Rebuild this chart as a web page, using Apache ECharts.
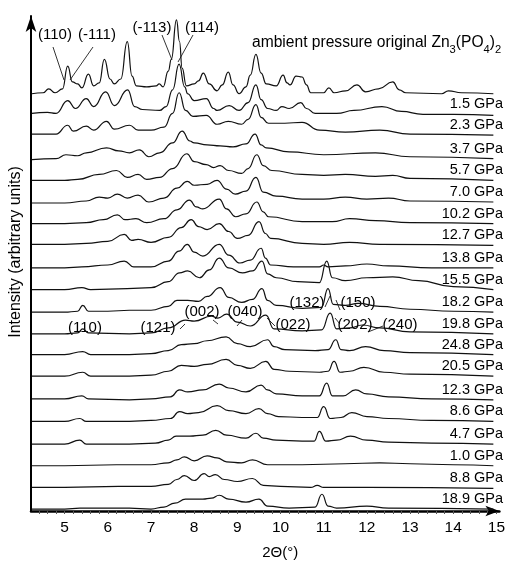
<!DOCTYPE html>
<html>
<head>
<meta charset="utf-8">
<script src="https://cdn.jsdelivr.net/npm/echarts@6/dist/echarts.min.js"></script>
<style>
html, body { margin: 0; padding: 0; background: #fff; }
#xrdChart { width: 508px; height: 565px; }
</style>
</head>
<body>
<div id="xrdChart"></div>
<script>
// ---------------- data ----------------
var xLabels = [5, 6, 7, 8, 9, 10, 11, 12, 13, 14, 15];
var pressures = ['ambient', '1.5 GPa', '2.3 GPa', '3.7 GPa', '5.7 GPa', '7.0 GPa', '10.2 GPa', '12.7 GPa', '13.8 GPa', '15.5 GPa',
    '18.2 GPa', '19.8 GPa', '24.8 GPa', '20.5 GPa', '12.3 GPa', '8.6 GPa', '4.7 GPa', '1.0 GPa', '8.8 GPa', '18.9 GPa'];
// vertical stacking offset of each pattern
var offsets = [425, 403, 382, 358, 336, 314, 292, 270, 247, 225, 202, 180, 159, 137, 113, 91, 68, 46, 23, 2];

// [2theta, intensity]
var ambient = [[4.24,-1],[4.5,0],[4.63,4],[4.78,0],[4.95,4],[5.07,27],[5.18,11],[5.3,9],[5.4,5],[5.55,19],[5.67,7],[5.8,10],[5.92,34],[6.05,14],[6.15,9],[6.3,14],[6.45,52],[6.56,17],[6.66,7],[6.9,6],[7.12,7],[7.19,9],[7.28,6],[7.4,22],[7.47,34],[7.59,74],[7.66,52],[7.72,25],[7.82,7],[8.0,9],[8.1,12],[8.21,20],[8.35,9],[8.53,2],[8.65,8],[8.79,21],[8.9,8],[9.04,-1],[9.2,6],[9.3,18],[9.43,39],[9.55,20],[9.67,9],[9.9,7],[10.06,18],[10.15,10],[10.22,8],[10.36,17],[10.5,16],[10.6,8],[10.7,0],[11.0,0],[11.12,5],[11.24,0],[11.51,2],[11.77,8],[11.97,1],[12.27,4],[12.6,11],[12.75,3],[12.9,0],[13.73,-1],[13.89,2],[14.19,0],[14.93,-1]];
var p1_5 = [[4.24,1],[4.6,2],[4.8,1],[5.07,14],[5.25,6],[5.5,16],[5.67,8],[5.95,23],[6.15,9],[6.46,25],[6.62,8],[6.8,5],[7.2,4],[7.35,8],[7.5,25],[7.65,51],[7.78,28],[7.85,21],[8.0,14],[8.28,16],[8.45,6],[8.53,4],[8.81,9],[9.04,4],[9.25,12],[9.43,30],[9.55,15],[9.7,6],[9.9,4],[10.03,8],[10.2,6],[10.47,12],[10.6,6],[10.8,1],[11.3,1],[11.7,4],[12.35,8],[12.8,3],[13.3,0],[14.0,0],[14.93,-1]];
var p2_3 = [[4.24,1],[4.8,1],[5.07,10],[5.2,4],[5.5,9],[5.67,5],[5.97,14],[6.15,6],[6.5,10],[6.7,5],[7.0,5],[7.3,8],[7.5,22],[7.65,43],[7.8,25],[7.97,19],[8.28,20],[8.53,11],[8.79,14],[9.1,11],[9.25,16],[9.43,31],[9.55,18],[9.72,12],[10.1,12],[10.5,13],[10.9,5],[11.5,3],[12.3,5],[13.0,1],[14.93,0]];
var p3_7 = [[4.24,-1],[4.8,0],[5.03,4],[5.3,3],[5.5,6],[5.97,11],[6.25,8],[6.5,6],[6.73,9],[6.95,2],[7.2,6],[7.5,16],[7.72,28],[7.9,18],[8.0,16],[8.3,14],[8.6,13],[8.9,12],[9.2,15],[9.41,25],[9.55,14],[9.67,11],[10.2,7],[11.0,4],[12.2,6],[13.0,2],[14.93,0]];
var p5_7 = [[4.24,0],[5.0,0],[5.3,1],[5.8,6],[6.2,10],[6.45,3],[6.7,6],[6.9,1],[7.2,3],[7.5,12],[7.83,27],[8.0,19],[8.28,16],[8.45,13],[8.6,15],[8.8,10],[9.1,7],[9.25,12],[9.45,26],[9.6,15],[9.8,10],[10.5,6],[11.0,5],[11.5,6],[12.2,4],[12.6,5],[13.0,2],[14.93,0]];
var p7_0 = [[4.24,-1],[5.0,-1],[5.5,1],[5.8,5],[6.0,4],[6.22,8],[6.45,4],[6.7,7],[6.95,0],[7.3,4],[7.6,14],[7.84,21],[8.0,17],[8.3,18],[8.53,22],[8.75,13],[8.95,8],[9.2,11],[9.43,25],[9.6,10],[9.9,6],[10.5,3],[11.0,3],[11.5,5],[12.0,3],[12.5,4],[13.0,1],[14.93,0]];
var p10_2 = [[4.24,0],[5.0,0],[5.5,1],[5.9,4],[6.22,9],[6.4,4],[6.65,5],[6.9,1],[7.3,5],[7.6,14],[7.89,24],[8.05,17],[8.2,15],[8.58,25],[8.75,15],[8.96,7],[9.2,10],[9.45,22],[9.6,12],[9.72,7],[10.5,2],[11.2,2],[11.6,5],[12.2,3],[13.0,1],[14.93,0]];
var p12_7 = [[4.24,1],[5.0,1],[5.5,2],[6.0,4],[6.38,11],[6.55,5],[6.7,6],[7.0,3],[7.4,8],[7.7,18],[7.93,26],[8.1,19],[8.3,16],[8.58,22],[8.8,14],[9.0,7],[9.25,10],[9.5,24],[9.65,12],[9.77,7],[10.5,2],[11.0,1],[11.6,3],[12.3,1],[14.93,0]];
var p13_8 = [[4.24,0],[5.0,0],[5.4,1],[6.0,3],[6.38,7],[6.6,1],[7.0,1],[7.4,7],[7.65,17],[7.84,24],[8.0,16],[8.2,12],[8.58,24],[8.8,13],[9.06,5],[9.3,8],[9.55,20],[9.65,10],[9.77,3],[10.3,1],[10.9,1],[11.0,3],[11.1,1],[11.5,2],[12.0,4],[12.5,2],[13.5,0],[14.93,0]];
var p15_5 = [[4.24,0],[5.0,0],[5.4,2],[5.6,0],[6.45,1],[7.0,2],[7.4,8],[7.66,17],[7.85,19],[8.12,12],[8.35,20],[8.58,32],[8.8,22],[9.12,17],[9.35,19],[9.57,29],[9.7,16],[9.9,12],[10.4,8],[10.9,7],[11.07,29],[11.2,12],[11.5,9],[12.0,12],[12.6,13],[13.2,9],[14.0,3],[14.93,0]];
var p18_2 = [[4.24,0],[5.0,0],[5.3,1],[5.42,7],[5.55,1],[6.0,1],[6.5,2],[7.0,2],[7.4,6],[7.6,12],[7.85,12],[8.1,11],[8.3,16],[8.6,25],[8.8,15],[9.1,10],[9.35,13],[9.57,24],[9.7,12],[9.9,7],[10.5,4],[10.95,5],[11.1,24],[11.22,8],[11.5,7],[11.8,9],[12.3,6],[13.0,3],[14.0,1],[14.93,0]];
var p19_8 = [[4.24,0],[5.0,0],[5.3,1],[5.42,5],[5.55,1],[6.5,0],[7.0,1],[7.4,6],[7.8,14],[8.0,13],[8.4,18],[8.55,16],[8.75,20],[9.0,12],[9.3,8],[9.66,19],[9.85,5],[10.5,3],[10.95,4],[11.15,21],[11.3,5],[11.6,6],[11.9,9],[12.3,6],[13.0,2],[14.93,0]];
var p24_8 = [[4.24,0],[5.0,0],[5.42,3],[5.6,0],[6.5,0],[7.0,1],[7.4,4],[7.7,10],[8.0,11],[8.3,14],[8.74,18],[9.0,11],[9.3,8],[9.7,15],[9.85,8],[10.1,5],[10.8,4],[11.1,5],[11.28,15],[11.4,5],[11.6,4],[11.97,8],[12.4,4],[13.0,2],[14.93,0]];
var p20_5 = [[4.24,0],[5.0,0],[5.42,4],[5.6,0],[6.5,0],[7.0,1],[7.4,5],[7.7,11],[8.0,10],[8.3,12],[8.74,17],[9.0,11],[9.3,8],[9.66,15],[9.85,7],[10.2,5],[10.9,4],[11.1,5],[11.24,15],[11.38,4],[11.6,5],[11.93,9],[12.4,4],[13.0,2],[14.93,0]];
var p12_3 = [[4.24,1],[5.0,1],[5.4,4],[5.55,1],[6.5,0],[7.0,1],[7.45,3],[7.66,10],[7.85,8],[8.2,10],[8.58,16],[8.8,12],[9.2,8],[9.55,15],[9.7,10],[9.9,6],[10.5,4],[10.9,4],[11.07,17],[11.2,4],[11.45,4],[11.74,10],[12.0,6],[12.5,3],[13.5,1],[14.93,0]];
var p8_6 = [[4.24,0],[5.0,0],[5.35,3],[5.5,0],[6.5,0],[7.0,1],[7.45,3],[7.66,10],[7.85,8],[8.1,9],[8.53,16],[8.8,11],[9.2,8],[9.5,13],[9.7,8],[9.95,5],[10.5,4],[10.85,4],[11.0,15],[11.15,3],[11.4,4],[11.65,9],[12.0,5],[12.5,3],[13.5,1],[14.93,0]];
var p4_7 = [[4.24,0],[5.0,0],[5.35,4],[5.5,0],[6.5,0],[7.1,1],[7.4,4],[7.58,8],[7.9,8],[8.2,9],[8.5,14],[8.75,9],[9.2,6],[9.43,11],[9.6,6],[9.9,4],[10.5,3],[10.78,3],[10.9,13],[11.05,3],[11.3,4],[11.62,8],[12.0,4],[12.5,2],[13.5,1],[14.93,0]];
var p1_0 = [[4.24,0],[5.0,0],[6.2,1],[7.0,1],[7.4,3],[7.6,6],[7.77,9],[8.0,5],[8.3,10],[8.53,8],[8.75,4],[9.1,3],[9.35,6],[9.7,1],[10.5,1],[11.5,2],[12.3,3],[13.0,2],[14.0,1],[14.93,0]];
var p8_8 = [[4.24,1],[5.0,1],[6.25,2],[7.0,2],[7.4,4],[7.6,9],[7.77,13],[8.0,8],[8.23,15],[8.35,12],[8.49,14],[8.7,9],[9.0,7],[9.35,10],[9.6,3],[10.0,2],[10.7,1],[10.85,3],[11.0,1],[12.0,1],[14.93,0]];
var p18_9 = [[4.24,0],[5.0,0],[5.35,1],[6.5,1],[7.0,0],[7.3,2],[7.55,6],[7.8,10],[8.2,10],[8.4,11],[8.58,14],[8.8,10],[9.2,7],[9.5,10],[9.7,3],[10.2,1],[10.8,2],[10.96,15],[11.1,3],[11.3,1],[12.0,3],[12.5,1],[14.93,0]];

var traces = [ambient, p1_5, p2_3, p3_7, p5_7, p7_0, p10_2, p12_7, p13_8, p15_5,
    p18_2, p19_8, p24_8, p20_5, p12_3, p8_6, p4_7, p1_0, p8_8, p18_9];

// ---------------- chart ----------------
var dom = document.getElementById('xrdChart');
var xrdChart = echarts.init(dom);
var fontName = 'Liberation Sans, Arial, sans-serif';

var minorTicks = [];
for (var t = 44; t <= 150; t += 2) { minorTicks.push(t / 10); }

var series = traces.map(function (tr, i) {
    return {
        name: pressures[i],
        type: 'line',
        smooth: 0.5,
        smoothMonotone: 'x',
        symbol: 'none',
        silent: true,
        lineStyle: { color: '#111', width: 1.2 },
        data: tr.map(function (p) { return [p[0], p[1] + offsets[i]]; })
    };
});

var option = {
    animation: false,
    backgroundColor: '#fff',
    grid: { left: 31, right: 7, top: 16, bottom: 46 },
    xAxis: {
        type: 'value',
        min: 4.22,
        max: 15.07,
        name: '2\u0398(\u00b0)',
        nameLocation: 'middle',
        nameGap: 34,
        nameTextStyle: { fontFamily: fontName, fontSize: 15, color: '#000', padding: [0, 0, 0, 30] },
        axisLine: { show: true, symbol: ['none', 'arrow'], symbolSize: [8, 14], lineStyle: { color: '#000', width: 2.5 } },
        axisTick: { show: true, inside: false, length: 3, customValues: minorTicks, lineStyle: { color: '#555', width: 1 } },
        axisLabel: { customValues: xLabels, margin: 9, fontFamily: fontName, fontSize: 15.5, color: '#000' },
        splitLine: { show: false }
    },
    yAxis: {
        type: 'value',
        min: 0,
        max: 503,
        axisLine: { show: true, symbol: ['none', 'arrow'], symbolSize: [8, 16], lineStyle: { color: '#000', width: 2 } },
        axisTick: { show: false },
        axisLabel: { show: false },
        splitLine: { show: false }
    },
    series: series
};
xrdChart.setOption(option, true);

// ---------------- annotations ----------------
var graphics = [];
function addText(txt, x, y, size, align) {
    graphics.push({
        type: 'text', x: x, y: y, silent: true,
        style: { text: txt, fill: '#000', font: size + 'px ' + fontName, textAlign: align || 'center', textVerticalAlign: 'middle' }
    });
}
function addLeader(x1, y1, x2, y2) {
    graphics.push({
        type: 'line', silent: true,
        shape: { x1: x1, y1: y1, x2: x2, y2: y2 },
        style: { stroke: '#000', lineWidth: 0.8 }
    });
}

// y axis title
graphics.push({
    type: 'text', x: 16, y: 252, rotation: Math.PI / 2, silent: true,
    style: { text: 'Intensity (arbitrary units)', fill: '#000', font: '16px ' + fontName, textAlign: 'center', textVerticalAlign: 'middle' }
});

// pressure labels at the right end of each pattern
pressures.forEach(function (p, i) {
    if (i === 0) return;
    var pt = xrdChart.convertToPixel({ gridIndex: 0 }, [15, offsets[i]]);
    addText(p, 503, pt[1] - 10, 14.5, 'right');
});

// "ambient pressure original Zn3(PO4)2" with subscripts, laid out piece by piece
var measureCtx = document.createElement('canvas').getContext('2d');
var titleParts = [['ambient pressure original Zn', false], ['3', true], ['(PO', false], ['4', true], [')', false], ['2', true]];
// fit the title between x = 252 and x = 502
var baseW = 0;
titleParts.forEach(function (part) {
    measureCtx.font = (part[1] ? 10 : 14) + 'px ' + fontName;
    baseW += measureCtx.measureText(part[0]).width;
});
var k = Math.min(1.25, 250 / baseW);
var tx = 252;
titleParts.forEach(function (part) {
    var f = (part[1] ? 10 * k : 14 * k).toFixed(1) + 'px ' + fontName;
    measureCtx.font = f;
    graphics.push({
        type: 'text', x: tx, y: part[1] ? 50 : 43, silent: true,
        style: { text: part[0], fill: '#000', font: f, textAlign: 'left', textVerticalAlign: 'middle' }
    });
    tx += measureCtx.measureText(part[0]).width;
});

// ambient phase reflections
addText('(110)', 55, 35, 15);
addText('(-111)', 97, 35, 15);
addText('(-113)', 152, 28, 15);
addText('(114)', 202, 28, 15);
addLeader(53, 47, 64, 80);
addLeader(93, 47, 70, 80);
addLeader(162, 35, 172, 60);
addLeader(193, 35, 178, 62);

// high pressure phase reflections
addText('(110)', 85, 328, 15);
addText('(121)', 158, 328, 15);
addText('(002)', 202, 312, 15);
addText('(040)', 245, 312, 15);
addText('(022)', 293, 325, 15);
addText('(132)', 307, 303, 15);
addText('(150)', 358, 303, 15);
addText('(202)', 355, 325, 15);
addText('(240)', 400, 325, 15);
addLeader(180, 329, 185, 324);
addLeader(213, 320, 218, 324);
addLeader(242, 320, 237, 326);
addLeader(267, 318, 275, 326);
addLeader(325, 307, 330, 296);
addLeader(336, 300, 340, 310);
addLeader(335, 318, 340, 324);
addLeader(368, 332, 383, 326);

xrdChart.setOption({ graphic: graphics });

window.addEventListener('resize', function () {
    setTimeout(function () { xrdChart.resize(); }, 0);
});
</script>
</body>
</html>
